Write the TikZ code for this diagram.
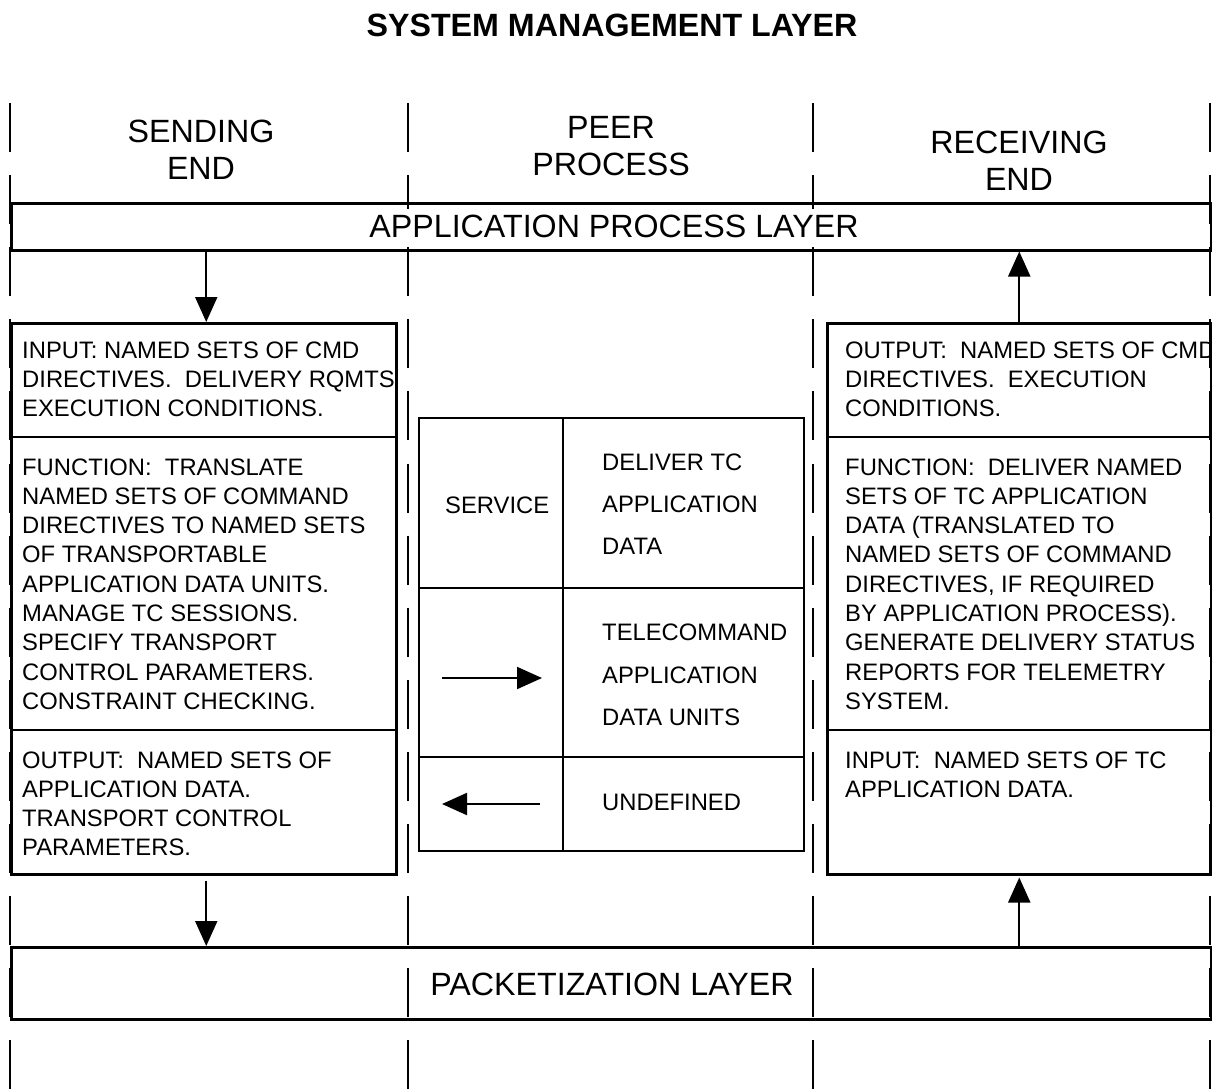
\documentclass[tikz,border=0pt]{standalone}
\usepackage{fontspec}
\setmainfont{Liberation Sans}
\usetikzlibrary{arrows.meta}
\frenchspacing
% stacked lines with a fixed line pitch; the baseline is that of the first line
\newcommand\textrows[2][l]{\begin{tabular}[t]{@{}#1@{}}#2\end{tabular}}
\tikzset{
  frame/.style={draw, line width=2.5pt, inner sep=0pt, anchor=north west},
  rule/.style={line width=2.3pt},
  divider/.style={line width=2pt, dash pattern=on 49pt off 23.1pt},
  flow/.style={line width=2pt, -{Triangle[length=25pt,width=22pt]}},
  bigtext/.style={font=\fontsize{32.2}{37}\selectfont, inner sep=0pt},
  boxtext/.style={font=\fontsize{23.8}{29.3}\selectfont, inner sep=0pt, anchor=base west},
  celltext/.style={font=\fontsize{23.8}{42.4}\selectfont, inner sep=0pt, anchor=base west},
}
\begin{document}
\begin{tikzpicture}[x=1pt,y=-1pt]
\useasboundingbox (0,0) rectangle (1212,1090);

% title
\node[font=\bfseries\fontsize{32.2}{37}\selectfont, inner sep=0pt, anchor=base]
  (title) at (612,36) {SYSTEM MANAGEMENT LAYER};

% column headings
\node[bigtext, anchor=base] (sendhead) at (201,142) {\textrows[c]{SENDING\\END}};
\node[bigtext, anchor=base] (peerhead) at (611,138) {\textrows[c]{PEER\\PROCESS}};
\node[bigtext, anchor=base] (recvhead) at (1019,153) {\textrows[c]{RECEIVING\\END}};

% layer bands
\node[frame, minimum width=1200pt, minimum height=47pt] (apl) at (10,202) {};
\node[frame, minimum width=1200pt, minimum height=72pt] (pkt) at (10,946) {};

% sending end boxes
\node[frame, minimum width=385pt, minimum height=551pt] (sendbox) at (10,322) {};
\draw[rule] (10,437) -- (395,437);
\draw[rule] (10,730) -- (395,730);

% receiving end boxes
\node[frame, minimum width=384pt, minimum height=551pt] (recvbox) at (826,322) {};
\draw[rule] (826,437) -- (1210,437);
\draw[rule] (826,730) -- (1210,730);

% peer process service table
\node[frame, minimum width=385pt, minimum height=433pt, line width=2.2pt] (svctable) at (418,417) {};
\draw[line width=2.2pt] (563,417) -- (563,850);
\draw[line width=2.2pt] (418,588) -- (803,588);
\draw[line width=2.2pt] (418,757) -- (803,757);

% column dividers
\foreach \x/\n in {10/0,408/1,813/2,1210/3} {
  \coordinate (dtop\n) at (\x,103);
  \coordinate (dbot\n) at (\x,1090);
  \draw[divider] (dtop\n) -- (dbot\n);
}

% layer names
\node[bigtext, anchor=base, fill=white, inner xsep=11pt, text height=28pt, text depth=9.5pt]
  (apllabel) at (614,237.3) {APPLICATION PROCESS LAYER};
\node[bigtext, anchor=base] (pktlabel) at (612,995) {PACKETIZATION LAYER};

% sending end texts
\node[boxtext] (sendin) at (22,358.3) {\textrows{INPUT: NAMED SETS OF CMD\\
  DIRECTIVES.~ DELIVERY RQMTS\\EXECUTION CONDITIONS.}};
\node[boxtext] (sendfunc) at (22,475) {\textrows{FUNCTION:~ TRANSLATE\\
  NAMED SETS OF COMMAND\\DIRECTIVES TO NAMED SETS\\OF TRANSPORTABLE\\
  APPLICATION DATA UNITS.\\MANAGE TC SESSIONS.\\SPECIFY TRANSPORT\\
  CONTROL PARAMETERS.\\CONSTRAINT CHECKING.}};
\node[boxtext] (sendout) at (22,768) {\textrows{OUTPUT:~ NAMED SETS OF\\
  APPLICATION DATA.\\TRANSPORT CONTROL\\PARAMETERS.}};

% receiving end texts
\begin{scope}
  \clip (826,322) rectangle (1209,437);
  \node[boxtext] (recvout) at (845,358.3) {\textrows{OUTPUT:~ NAMED SETS OF CMD\\
    DIRECTIVES.~ EXECUTION\\CONDITIONS.}};
\end{scope}
\node[boxtext] (recvfunc) at (845,475) {\textrows{FUNCTION:~ DELIVER NAMED\\
  SETS OF TC APPLICATION\\DATA (TRANSLATED TO\\NAMED SETS OF COMMAND\\
  DIRECTIVES, IF REQUIRED\\BY APPLICATION PROCESS).\\GENERATE DELIVERY STATUS\\
  REPORTS FOR TELEMETRY\\SYSTEM.}};
\node[boxtext] (recvin) at (845,768) {\textrows{INPUT:~ NAMED SETS OF TC\\
  APPLICATION DATA.}};

% service table texts
\node[celltext] (svcname) at (445,513.3) {SERVICE};
\node[celltext] (svcdesc) at (602,470) {\textrows{DELIVER TC\\APPLICATION\\DATA}};
\node[celltext] (tcdesc) at (602,640.7) {\textrows{TELECOMMAND\\APPLICATION\\DATA UNITS}};
\node[celltext] (undef) at (602,810.7) {UNDEFINED};

% direction marks in the table
\coordinate (fwdA) at (442,678);
\coordinate (fwdB) at (542,678);
\coordinate (revA) at (540,804);
\coordinate (revB) at (442,804);
\draw[flow] (fwdA) -- (fwdB);
\draw[flow] (revA) -- (revB);

% data flow between layers and ends
\coordinate (sendtop) at ([xshift=2.5pt]sendbox.north);
\coordinate (sendbot) at ([xshift=2.5pt,yshift=-5pt]sendbox.south);
\coordinate (recvtop) at (recvbox.north);
\coordinate (recvbot) at ([yshift=-2pt]recvbox.south);
\draw[flow] (apl.south -| sendtop) -- (sendtop);
\draw[flow] (recvtop) -- (apl.south -| recvtop);
\draw[flow] (sendbot) -- (pkt.north -| sendbot);
\draw[flow] (pkt.north -| recvbot) -- (recvbot);
\end{tikzpicture}
\end{document}
